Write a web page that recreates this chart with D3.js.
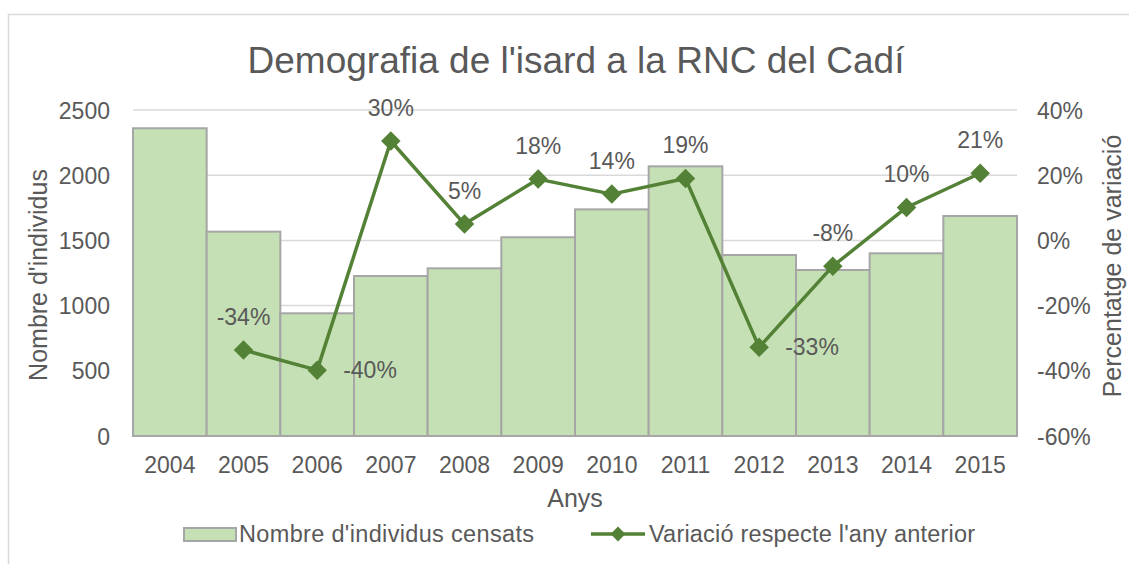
<!DOCTYPE html>
<html>
<head>
<meta charset="utf-8">
<script src="https://cdnjs.cloudflare.com/ajax/libs/d3/7.8.5/d3.min.js"></script>
<style>
  body { margin: 0; background: #fff; }
  text { font-family: "Liberation Sans", Arial, sans-serif; fill: #595959; }
</style>
</head>
<body>
<div id="chart"></div>
<script>
// Data
const years = ["2004", "2005", "2006", "2007", "2008", "2009", "2010", "2011", "2012", "2013", "2014", "2015"];
const individuals = [2360, 1567, 941, 1227, 1286, 1524, 1738, 2068, 1388, 1273, 1401, 1687];
const variation = [null, -0.336, -0.398, 0.305, 0.05, 0.188, 0.142, 0.19, -0.328, -0.079, 0.101, 0.206];
const variationLabels = [null, "-34%", "-40%", "30%", "5%", "18%", "14%", "19%", "-33%", "-8%", "10%", "21%"];
const labelSide = [null, "top", "right", "top", "top", "top", "top", "top", "right", "top", "top", "top"];
const leftTicks = [0, 500, 1000, 1500, 2000, 2500];
const rightTicks = [-0.6, -0.4, -0.2, 0, 0.2, 0.4];

const W = 1129, H = 564;
const margin = { top: 110, right: 112, bottom: 128, left: 133 };
const green = "#538135";

const svg = d3.select("#chart").append("svg").attr("width", W).attr("height", H);

// chart area border
svg.append("rect")
  .attr("x", 8.5).attr("y", 14.5).attr("width", W + 20).attr("height", H + 20)
  .attr("fill", "none").attr("stroke", "#d9d9d9").attr("stroke-width", 1.5);

const x = d3.scaleBand().domain(years).range([margin.left, W - margin.right]).padding(0);
const y = d3.scaleLinear().domain([0, 2500]).range([H - margin.bottom, margin.top]);
const y2 = d3.scaleLinear().domain([-0.6, 0.4]).range([H - margin.bottom, margin.top]);

// gridlines
svg.append("g")
  .selectAll("line")
  .data(leftTicks)
  .join("line")
  .attr("x1", margin.left).attr("x2", W - margin.right)
  .attr("y1", d => y(d)).attr("y2", d => y(d))
  .attr("stroke", "#d9d9d9").attr("stroke-width", 1.5);

// bars
svg.append("g")
  .selectAll("rect")
  .data(individuals)
  .join("rect")
  .attr("x", (d, i) => x(years[i]))
  .attr("y", d => y(d))
  .attr("width", x.bandwidth())
  .attr("height", d => y(0) - y(d))
  .attr("fill", "#c5e0b4")
  .attr("stroke", "#a6a6a6")
  .attr("stroke-width", 2);

// left axis
const axisL = svg.append("g")
  .attr("transform", `translate(${margin.left - 23},0)`)
  .call(d3.axisLeft(y).tickValues(leftTicks).tickSize(0).tickPadding(0).tickFormat(d3.format("d")));
axisL.select(".domain").remove();
axisL.selectAll("text").style("font-size", "23px").attr("fill", "#595959").attr("dy", "0.35em");

// right axis
const axisR = svg.append("g")
  .attr("transform", `translate(${W - margin.right + 20},0)`)
  .call(d3.axisRight(y2).tickValues(rightTicks).tickSize(0).tickPadding(0)
    .tickFormat(d => Math.round(d * 100) + "%"));
axisR.select(".domain").remove();
axisR.selectAll("text").style("font-size", "23px").attr("fill", "#595959").attr("dy", "0.35em");

// bottom axis
const axisB = svg.append("g")
  .attr("transform", `translate(0,${H - margin.bottom})`)
  .call(d3.axisBottom(x).tickSize(0).tickPadding(21));
axisB.select(".domain").remove();
axisB.selectAll("text").style("font-size", "23px").attr("fill", "#595959");

// line
const pts = variation.map((v, i) => ({ v, i })).filter(d => d.v !== null);
const line = d3.line()
  .x(d => x(years[d.i]) + x.bandwidth() / 2)
  .y(d => y2(d.v));
svg.append("path")
  .datum(pts)
  .attr("d", line)
  .attr("fill", "none")
  .attr("stroke", green)
  .attr("stroke-width", 3.5)
  .attr("stroke-linejoin", "round");

svg.append("g")
  .selectAll("path")
  .data(pts)
  .join("path")
  .attr("d", d3.symbol(d3.symbolSquare, 190))
  .attr("transform", d => `translate(${x(years[d.i]) + x.bandwidth() / 2},${y2(d.v)}) rotate(45)`)
  .attr("fill", green);

// data labels
svg.append("g")
  .selectAll("text")
  .data(pts)
  .join("text")
  .attr("x", d => x(years[d.i]) + x.bandwidth() / 2 + (labelSide[d.i] === "right" ? 26 : 0))
  .attr("y", d => y2(d.v) + (labelSide[d.i] === "right" ? 8 : -25))
  .attr("text-anchor", d => labelSide[d.i] === "right" ? "start" : "middle")
  .style("font-size", "23px")
  .text(d => variationLabels[d.i]);

// title
svg.append("text")
  .attr("x", 576).attr("y", 73)
  .attr("text-anchor", "middle")
  .style("font-size", "37px")
  .text("Demografia de l'isard a la RNC del Cadí");

// axis titles
svg.append("text")
  .attr("transform", "translate(47,275) rotate(-90)")
  .attr("text-anchor", "middle")
  .style("font-size", "25px")
  .text("Nombre d'individus");

svg.append("text")
  .attr("transform", "translate(1121,266) rotate(-90)")
  .attr("text-anchor", "middle")
  .style("font-size", "25px")
  .text("Percentatge de variació");

svg.append("text")
  .attr("x", (margin.left + W - margin.right) / 2).attr("y", 507)
  .attr("text-anchor", "middle")
  .style("font-size", "25px")
  .text("Anys");

// legend
const legend = svg.append("g").attr("transform", "translate(0,534)");
legend.append("rect")
  .attr("x", 184).attr("y", -6).attr("width", 52).attr("height", 13)
  .attr("fill", "#c5e0b4").attr("stroke", "#a6a6a6").attr("stroke-width", 2);
legend.append("text")
  .attr("x", 239).attr("y", 0).attr("dy", "0.35em")
  .style("font-size", "23.5px")
  .attr("textLength", 295)
  .text("Nombre d'individus censats");
legend.append("line")
  .attr("x1", 591).attr("x2", 645).attr("y1", 0).attr("y2", 0)
  .attr("stroke", green).attr("stroke-width", 3.5);
legend.append("path")
  .attr("d", d3.symbol(d3.symbolSquare, 110))
  .attr("transform", "translate(618,0) rotate(45)")
  .attr("fill", green);
legend.append("text")
  .attr("x", 649).attr("y", 0).attr("dy", "0.35em")
  .style("font-size", "23.5px")
  .attr("textLength", 326)
  .text("Variació respecte l'any anterior");
</script>
</body>
</html>
